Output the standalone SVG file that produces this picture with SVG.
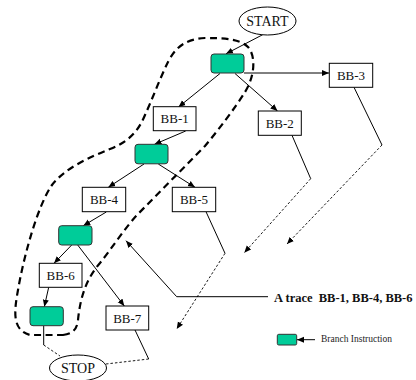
<svg xmlns="http://www.w3.org/2000/svg" width="416" height="380" viewBox="0 0 416 380">
  <style>
    .bg { fill: #ffffff; }
    .box { fill: #ffffff; stroke: #000000; stroke-width: 1; }
    .branch { fill: #00cc99; stroke: #333333; stroke-width: 1; }
    .term { fill: #ffffff; stroke: #000000; stroke-width: 1; }
    .lbl { font-family: "Liberation Serif", "Times New Roman", serif; font-size: 13px; fill: #111111; text-anchor: middle; }
    .edge { fill: none; stroke: #000000; stroke-width: 1; }
    .flow { fill: none; stroke: #000000; stroke-width: 0.9; stroke-dasharray: 2.5 2; }
    .trace { fill: none; stroke: #000000; stroke-width: 2.2; stroke-dasharray: 7 4.5; }
  </style>
  <defs>
    <marker id="arrow" markerUnits="userSpaceOnUse" markerWidth="8" markerHeight="7" refX="7" refY="3.5" orient="auto">
      <path d="M0,0.5 L7,3.5 L0,6.5 z" fill="#000000"/>
    </marker>
  </defs>

  <rect class="bg" x="0" y="0" width="416" height="380"/>

  <!-- outline of the trace BB-1, BB-4, BB-6 -->
  <path id="trace-outline" class="trace" d="M 63 335 C 72 334, 77 330, 78 320 C 80 300, 85 280, 100 263 C 112 248, 125 228, 137 215 L 205 146 C 220 128, 235 108, 245 92 C 255 76, 256 56, 248 47 C 240 39, 225 38, 205 38 C 185 39, 175 48, 168 62 C 160 78, 152 100, 145 115 C 138 132, 128 142, 110 149 C 90 157, 65 168, 52 185 C 38 205, 24 255, 18 290 C 14 312, 12 330, 30 335 Z"/>

  <g id="connectors">
    <path class="edge" d="M 262.7 34.7 L 226 53.8" marker-end="url(#arrow)"/>
    <path class="edge" d="M 244 73 L 329 73" marker-end="url(#arrow)"/>
    <path class="edge" d="M 235 73.5 L 277.5 111" marker-end="url(#arrow)"/>
    <path class="edge" d="M 220 73.5 L 178.5 107" marker-end="url(#arrow)"/>
    <path class="edge" d="M 185.7 131 L 154.5 144.3" marker-end="url(#arrow)"/>
    <path class="edge" d="M 144 164 L 108.3 187.3" marker-end="url(#arrow)"/>
    <path class="edge" d="M 158.3 164 L 195 187.3" marker-end="url(#arrow)"/>
    <path class="edge" d="M 106.3 212 L 83.3 225.7" marker-end="url(#arrow)"/>
    <path class="edge" d="M 71.7 245 L 54 263.3" marker-end="url(#arrow)"/>
    <path class="edge" d="M 77.7 245 L 124.3 306" marker-end="url(#arrow)"/>
    <path class="edge" d="M 48.7 287.3 L 44.3 306.7" marker-end="url(#arrow)"/>

    <!-- exits from BB-3, BB-2, BB-5 -->
    <path class="edge" d="M 354 87.3 L 382 145"/>
    <path class="flow" d="M 382 145 L 287 244" marker-end="url(#arrow)"/>
    <path class="edge" d="M 292 135.3 L 310.7 178.7"/>
    <path class="flow" d="M 310.7 178.7 L 244.3 252.7" marker-end="url(#arrow)"/>
    <path class="edge" d="M 206 211.7 L 225 253.3"/>
    <path class="flow" d="M 225 253.3 L 176.7 329" marker-end="url(#arrow)"/>

    <!-- paths into STOP -->
    <path class="edge" d="M 43.7 325.7 L 43.7 345"/>
    <path class="flow" d="M 43.7 345 L 60 356"/>
    <path class="edge" d="M 135 330 L 148.7 359"/>
    <path class="flow" d="M 148.7 359 L 106 364"/>

    <!-- pointer from the trace label -->
    <path class="edge" d="M 268 296.7 L 176.7 296.7 L 126 240.7" marker-end="url(#arrow)"/>

    <!-- legend pointer -->
    <path class="edge" d="M 315 339.7 L 297 339.7" marker-end="url(#arrow)"/>
  </g>

  <g id="start">
    <ellipse class="term" cx="267.5" cy="21" rx="28.5" ry="14"/>
    <text class="lbl" x="267.5" y="26" style="font-size:14px">START</text>
  </g>
  <g id="branch-1"><rect class="branch" x="211" y="54" width="33" height="19" rx="3"/></g>
  <g id="bb-3">
    <rect class="box" x="329.3" y="63.3" width="43.4" height="24"/>
    <text class="lbl" x="351" y="79.8">BB-3</text>
  </g>
  <g id="bb-1">
    <rect class="box" x="153.3" y="106.7" width="42.7" height="24"/>
    <text class="lbl" x="174.7" y="123.2">BB-1</text>
  </g>
  <g id="bb-2">
    <rect class="box" x="258.3" y="111" width="43" height="24.3"/>
    <text class="lbl" x="279.8" y="127.7">BB-2</text>
  </g>
  <g id="branch-2"><rect class="branch" x="135" y="144.3" width="33" height="19.5" rx="3"/></g>
  <g id="bb-4">
    <rect class="box" x="82.3" y="187.3" width="43.4" height="24.4"/>
    <text class="lbl" x="104" y="204">BB-4</text>
  </g>
  <g id="bb-5">
    <rect class="box" x="172.3" y="187.3" width="43.4" height="24.4"/>
    <text class="lbl" x="194" y="204">BB-5</text>
  </g>
  <g id="branch-3"><rect class="branch" x="58.7" y="225.7" width="33.3" height="19.3" rx="3"/></g>
  <g id="bb-6">
    <rect class="box" x="39.3" y="263.3" width="42.7" height="24"/>
    <text class="lbl" x="60.7" y="279.8">BB-6</text>
  </g>
  <g id="bb-7">
    <rect class="box" x="106" y="306" width="42.7" height="24"/>
    <text class="lbl" x="127.3" y="322.5">BB-7</text>
  </g>
  <g id="branch-4"><rect class="branch" x="30" y="306.7" width="33.3" height="19" rx="3"/></g>
  <g id="stop">
    <ellipse class="term" cx="78" cy="368" rx="28.5" ry="13"/>
    <text class="lbl" x="78" y="373" style="font-size:14px">STOP</text>
  </g>

  <g id="trace-label">
    <text x="274" y="302.3" xml:space="preserve" style="font-family:'Liberation Serif','Times New Roman',serif;font-size:12.5px;font-weight:bold;fill:#111111">A trace  BB-1, BB-4, BB-6</text>
  </g>

  <g id="legend">
    <rect class="branch" x="277.3" y="334.3" width="19.4" height="10.7" rx="1.5"/>
    <text x="321" y="342" style="font-family:'Liberation Serif','Times New Roman',serif;font-size:9.5px;fill:#222222">Branch Instruction</text>
  </g>
</svg>
